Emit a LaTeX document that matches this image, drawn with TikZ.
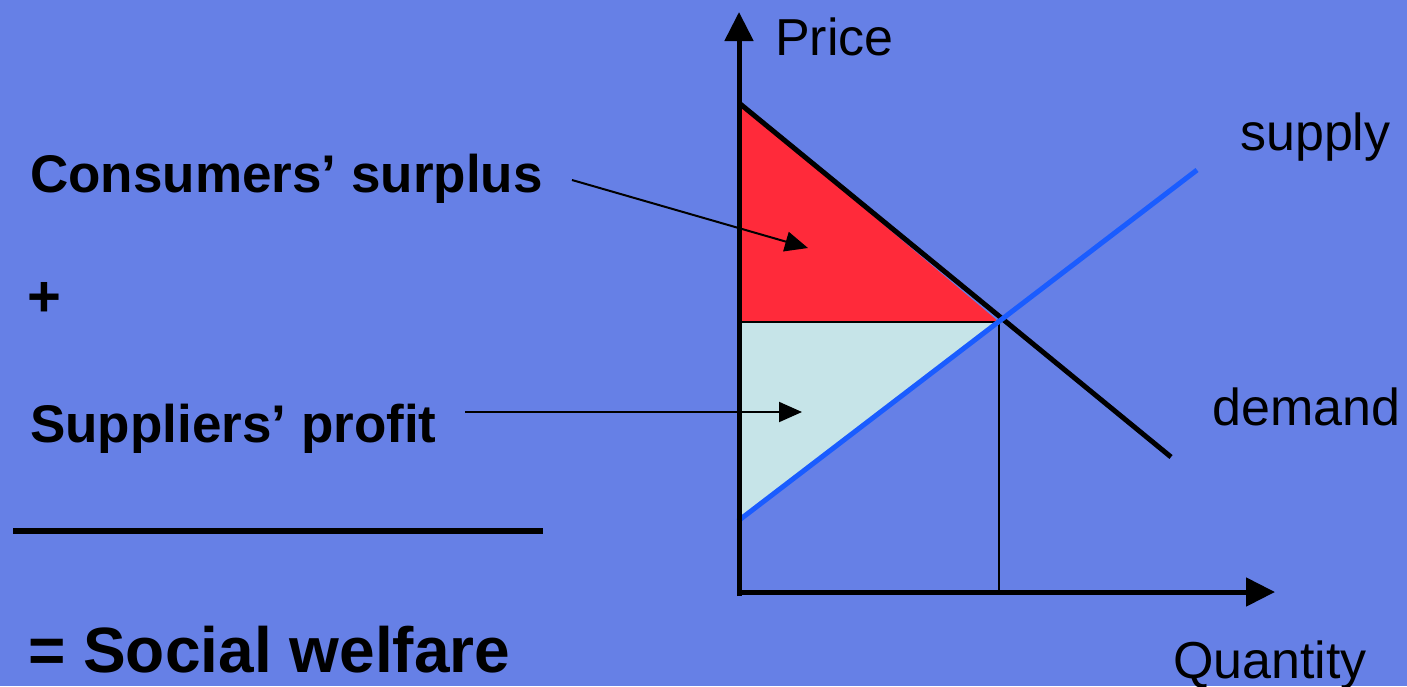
\documentclass[tikz,border=0pt]{standalone}
\usepackage{fontspec}
\setmainfont{Liberation Sans}
\usetikzlibrary{arrows.meta}
\definecolor{bg}{RGB}{102,128,230}
\definecolor{csred}{RGB}{255,42,58}
\definecolor{spblue}{RGB}{198,228,232}
\definecolor{supblue}{RGB}{26,92,255}
\tikzset{
  lbl/.style={inner sep=0pt, anchor=base west, font=\fontsize{52}{60}\selectfont},
  blbl/.style={lbl, font=\fontsize{53}{60}\selectfont\bfseries},
  axis/.style={line width=5pt, -{Triangle[length=29pt,width=28pt]}},
  pointer/.style={line width=2pt, -{Triangle[length=23pt,width=20pt]}},
}
\begin{document}
\begin{tikzpicture}[x=1pt,y=-1pt]
\useasboundingbox[fill=bg] (0,0) rectangle (1407,686);
% key points
\coordinate (O) at (739,592);
\coordinate (D0) at (739,103);
\coordinate (D1) at (1171,457);
\coordinate (S0) at (738,521);
\coordinate (S1) at (1197,170);
\coordinate (E) at (999,322);
\coordinate (P) at (739,322);
% areas
\fill[csred] (D0) -- (P) -- (E) -- cycle;
\fill[spblue] (P) -- (E) -- (S0) -- cycle;
\draw[line width=2pt] (P) -- (E);
\draw[line width=2pt] (E) -- (999,592);
% curves
\draw[line width=5pt] (D0) -- (D1);
\draw[line width=5pt, supblue] (S0) -- (S1);
% axes
\draw[axis] (739,596) -- (739,12);
\draw[axis] (737,592) -- (1275,592);
% labels
\node[lbl] (price) at (775,55) {Price};
\node[lbl] (supply) at (1240,150) {supply};
\node[lbl] (demand) at (1212,425) {demand};
\node[lbl] (qty) at (1173,678) {Quantity};
\node[blbl] (cs) at (30,192) {Consumers’ surplus};
\node[blbl, font=\fontsize{58}{60}\selectfont\bfseries] (plus) at (27,316) {+};
\node[blbl] (sp) at (30,442) {Suppliers’ profit};
\node[lbl, font=\fontsize{64}{72}\selectfont\bfseries] (sw) at (28,672) {= Social welfare};
\coordinate (csA) at (572,180);
\coordinate (csB) at (808,248);
\coordinate (spA) at (465,412);
\coordinate (spB) at (802,412);
\draw[pointer] (csA) -- (csB);
\draw[pointer] (spA) -- (spB);
\draw[line width=6pt] (13,531) -- (543,531);
\end{tikzpicture}
\end{document}
